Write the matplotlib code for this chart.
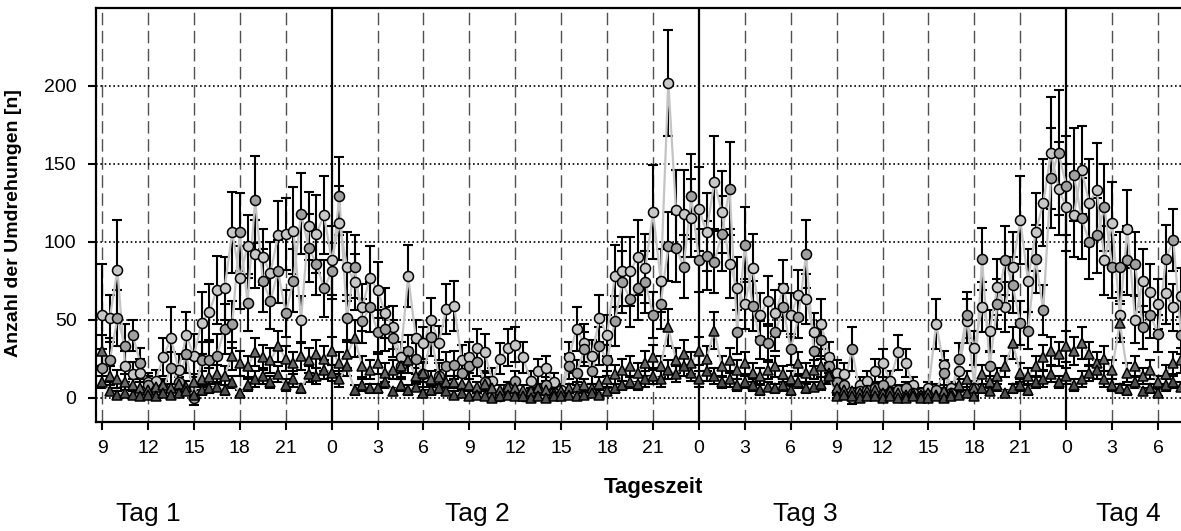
import numpy as np
import matplotlib
matplotlib.use('Agg')
import matplotlib.pyplot as plt

plt.rcParams['font.family'] = ['Liberation Sans', 'DejaVu Sans']

# half-hourly sampling, hours counted from midnight of day 1
hours = np.arange(9, 80, 0.5)

tick_hours = np.arange(9, 80, 3)
tick_labels = ['9', '12', '15', '18', '21', '0', '3', '6',
               '9', '12', '15', '18', '21', '0', '3', '6',
               '9', '12', '15', '18', '21', '0', '3', '6']
day_names = ['Tag 1', 'Tag 2', 'Tag 3', 'Tag 4']

# circles, light grey
circ_a = [53, 51, 82, 20, 15, 16, 10, 11, 26, 38, 18, 40,
          27, 48, 55, 69, 70, 106, 77, 97, 92, 90, 80, 104,
          105, 107, 50, 110, 105, 117, 88, 112, 84, 74, 58, 77,
          69, 54, 45, 26, 78, 38, 35, 50, 35, 57, 59, 24,
          26, 32, 29, 11, 25, 32, 34, 26, 11, 17, 19, 10,
          5, 26, 44, 35, 27, 51, 40, 78, 81, 81, 90, 83,
          119, 75, 202, 120, 118, 115, 121, 106, 138, 119, 86, 70,
          60, 83, 53, 62, 54, 70, 53, 66, 63, 42, 47, 26,
          16, 15, 0, 8, 11, 17, 22, 11, 29, 22, 8, 3,
          6, 47, 21, 6, 17, 49, 32, 58, 43, 71, 58, 84,
          114, 75, 106, 125, 157, 134, 122, 117, 146, 125, 133, 88,
          112, 53, 108, 50, 75, 68, 60, 67, 58, 65]
circ_a_err = [33, 15, 32, 10, 8, 9, 6, 7, 12, 20, 10, 15,
              14, 20, 18, 22, 20, 26, 20, 20, 22, 18, 20, 22,
              23, 28, 15, 22, 25, 25, 22, 24, 22, 18, 15, 20,
              18, 16, 14, 10, 20, 12, 10, 14, 11, 16, 16, 10,
              10, 12, 12, 8, 10, 12, 11, 10, 6, 8, 8, 6,
              4, 10, 14, 12, 10, 15, 13, 20, 22, 22, 24, 22,
              30, 20, 34, 26, 28, 25, 27, 25, 30, 26, 22, 20,
              16, 22, 14, 16, 15, 18, 14, 16, 16, 12, 16, 10,
              8, 7, 4, 5, 6, 8, 9, 6, 11, 9, 5, 3,
              4, 16, 9, 4, 8, 14, 11, 16, 13, 18, 16, 22,
              28, 20, 25, 28, 36, 30, 28, 27, 28, 28, 30, 22,
              26, 15, 25, 15, 20, 18, 16, 20, 15, 18]

# circles, mid grey
circ_b = [19, 24, 51, 33, 40, 22, 8, 5, 6, 19, 10, 28,
          0, 24, 24, 27, 44, 47, 106, 61, 127, 75, 62, 81,
          54, 75, 118, 96, 86, 70, 81, 129, 51, 84, 49, 58,
          42, 44, 38, 20, 30, 25, 15, 39, 14, 20, 21, 16,
          20, 23, 10, 1, 1, 6, 11, 1, 3, 5, 8, 3,
          2, 20, 16, 31, 17, 33, 24, 49, 74, 63, 70, 74,
          53, 60, 97, 96, 84, 129, 88, 91, 87, 105, 134, 42,
          98, 59, 37, 35, 42, 58, 31, 52, 92, 30, 37, 20,
          10, 8, 31, 4, 5, 6, 8, 3, 5, 6, 3, 1,
          2, 5, 16, 3, 25, 53, 6, 89, 20, 60, 88, 72,
          48, 43, 89, 56, 141, 157, 136, 143, 115, 100, 104, 122,
          84, 84, 88, 86, 45, 53, 41, 89, 101, 40]
circ_b_err = [12, 14, 18, 14, 10, 10, 6, 4, 5, 10, 7, 12,
              5, 12, 12, 14, 16, 15, 25, 18, 28, 20, 18, 20,
              15, 20, 26, 22, 20, 18, 18, 25, 15, 20, 14, 16,
              14, 14, 12, 8, 10, 10, 8, 12, 8, 9, 9, 8,
              8, 9, 6, 2, 2, 4, 6, 2, 3, 4, 5, 3,
              2, 8, 8, 11, 8, 12, 10, 16, 20, 18, 20, 20,
              15, 16, 22, 22, 20, 27, 20, 22, 20, 24, 30, 14,
              24, 16, 12, 12, 12, 15, 10, 14, 22, 10, 12, 8,
              6, 5, 14, 3, 4, 4, 5, 3, 3, 4, 2, 2,
              2, 4, 8, 3, 10, 15, 5, 20, 9, 16, 22, 18,
              14, 12, 22, 16, 32, 40, 32, 30, 26, 24, 24, 28,
              20, 22, 22, 20, 14, 15, 12, 22, 20, 12]

# triangles, upper group
tri_a = [30, 14, 12, 10, 8, 6, 5, 7, 8, 6, 9, 7,
         10, 12, 13, 15, 14, 27, 22, 20, 29, 26, 24, 33,
         25, 22, 27, 24, 28, 25, 30, 22, 28, 38, 20, 18,
         22, 16, 18, 20, 24, 14, 16, 12, 13, 10, 10, 9,
         8, 7, 9, 6, 5, 7, 6, 5, 4, 6, 5, 3,
         4, 6, 7, 8, 6, 9, 12, 15, 18, 20, 16, 22,
         26, 20, 45, 24, 28, 22, 30, 25, 43, 20, 24, 18,
         22, 16, 14, 18, 20, 15, 12, 22, 16, 18, 20, 16,
         6, 5, 4, 3, 4, 5, 3, 4, 3, 2, 3, 2,
         3, 2, 4, 3, 8, 12, 6, 15, 10, 14, 20, 35,
         16, 14, 20, 26, 30, 28, 33, 30, 35, 28, 22, 25,
         18, 48, 16, 20, 14, 18, 10, 15, 22, 24]
tri_a_err = [10, 6, 6, 5, 4, 4, 3, 4, 4, 3, 4, 4,
             5, 5, 6, 6, 6, 9, 8, 7, 9, 8, 8, 10,
             8, 7, 9, 8, 9, 8, 9, 7, 9, 12, 7, 6,
             7, 6, 6, 7, 8, 5, 6, 5, 5, 4, 4, 4,
             4, 3, 4, 3, 3, 3, 3, 3, 2, 3, 3, 2,
             2, 3, 3, 4, 3, 4, 5, 6, 7, 7, 6, 8,
             8, 7, 12, 8, 9, 7, 9, 8, 12, 7, 8, 6,
             7, 6, 5, 6, 7, 5, 5, 7, 6, 6, 7, 6,
             3, 3, 2, 2, 2, 3, 2, 2, 2, 2, 2, 2,
             2, 2, 2, 2, 4, 5, 3, 6, 4, 5, 7, 10,
             6, 5, 7, 8, 9, 8, 10, 9, 10, 8, 7, 8,
             6, 12, 6, 7, 5, 6, 4, 6, 7, 8]

# triangles, lower group
tri_b = [10, 4, 2, 3, 2, 1, 2, 1, 3, 2, 3, 4,
         2, 5, 6, 7, 5, 10, 3, 8, 12, 14, 10, 15,
         8, 12, 6, 15, 14, 18, 16, 12, 20, 5, 8, 6,
         6, 10, 4, 8, 5, 7, 3, 5, 6, 4, 2, 3,
         1, 2, 1, 0, 1, 2, 1, 1, 0, 1, 0, 1,
         1, 2, 1, 2, 3, 2, 4, 6, 8, 10, 9, 12,
         14, 12, 18, 15, 20, 16, 12, 17, 14, 10, 12, 8,
         10, 8, 5, 7, 6, 8, 5, 10, 6, 7, 9, 14,
         1, 2, 1, 0, 1, 1, 0, 1, 0, 0, 1, 0,
         0, 1, 0, 1, 2, 3, 1, 6, 4, 8, 3, 6,
         8, 5, 10, 12, 15, 10, 14, 8, 12, 16, 18, 12,
         8, 6, 5, 10, 4, 6, 3, 8, 10, 7]
tri_b_err = [4, 2, 2, 2, 2, 1, 2, 1, 2, 2, 2, 2,
             2, 3, 3, 3, 3, 4, 2, 4, 5, 5, 4, 5,
             4, 5, 3, 5, 5, 6, 5, 5, 6, 3, 4, 3,
             3, 4, 2, 4, 3, 3, 2, 3, 3, 2, 2, 2,
             1, 1, 1, 1, 1, 1, 1, 1, 1, 1, 1, 1,
             1, 1, 1, 1, 2, 1, 2, 3, 3, 4, 4, 5,
             5, 5, 6, 5, 6, 5, 5, 6, 5, 4, 5, 4,
             4, 4, 3, 3, 3, 4, 3, 4, 3, 3, 4, 5,
             1, 1, 1, 1, 1, 1, 1, 1, 1, 1, 1, 1,
             1, 1, 1, 1, 1, 2, 1, 3, 2, 4, 2, 3,
             4, 3, 4, 5, 5, 4, 5, 4, 5, 5, 6, 5,
             4, 3, 3, 4, 2, 3, 2, 4, 4, 3]

W, H = 1181, 531
fig = plt.figure(figsize=(W / 100, H / 100), dpi=100)
ax = fig.add_axes([96 / W, 1 - 421.7 / H, 1 - 96 / W, (421.7 - 8.3) / H])

# grid
for h in tick_hours:
    if h % 24 == 0:
        ax.axvline(h, color='k', lw=1.6, zorder=1)
    else:
        ax.axvline(h, color='#505050', lw=1.0, dashes=(9, 4), zorder=1)
for v in [0, 50, 100, 150, 200]:
    ax.axhline(v, color='k', lw=1.2, ls=(0, (1, 1.6)), zorder=1)

series = [
    (circ_a, circ_a_err, 'o', '#c8c8c8', 7.2),
    (circ_b, circ_b_err, 'o', '#a0a0a0', 7.2),
    (tri_a, tri_a_err, '^', '#6a6a6a', 7.4),
    (tri_b, tri_b_err, '^', '#505050', 7.4),
]
for vals, err, mk, col, size in series:
    ax.errorbar(hours, vals, yerr=err, fmt='none', ecolor='k',
                elinewidth=1.5, capsize=3.6, capthick=1.5, zorder=2)
    ax.plot(hours, vals, '-', color='#c4c4c4', lw=1.6, zorder=3)
    ax.plot(hours, vals, mk, ms=size, mfc=col, mec='k', mew=1.1, zorder=4)

ax.set_xlim(8.6, 79.5)
ax.set_ylim(-15.4, 249.6)
ax.set_xticks(tick_hours)
ax.set_xticklabels(tick_labels)
ax.set_yticks([0, 50, 100, 150, 200])
ax.tick_params(direction='out', length=6, width=1.5, labelsize=14)
ax.tick_params(axis='x', pad=7)
ax.tick_params(axis='y', pad=8)

for s in ['left', 'bottom', 'top']:
    ax.spines[s].set_linewidth(1.6)
ax.spines['right'].set_visible(False)

ax.set_ylabel('Anzahl der Umdrehungen [n]', fontsize=14, fontweight='bold')
ax.yaxis.set_label_coords(-0.068, 0.48)

fig.text(653 / W, 1 - 488 / H, 'Tageszeit', fontsize=16, fontweight='bold',
         ha='center', va='center')
for name, xpx in zip(day_names, [148, 477, 805, 1128]):
    fig.text(xpx / W, 1 - 514 / H, name, fontsize=19, ha='center', va='center')

fig.savefig('out.png', dpi=100)
